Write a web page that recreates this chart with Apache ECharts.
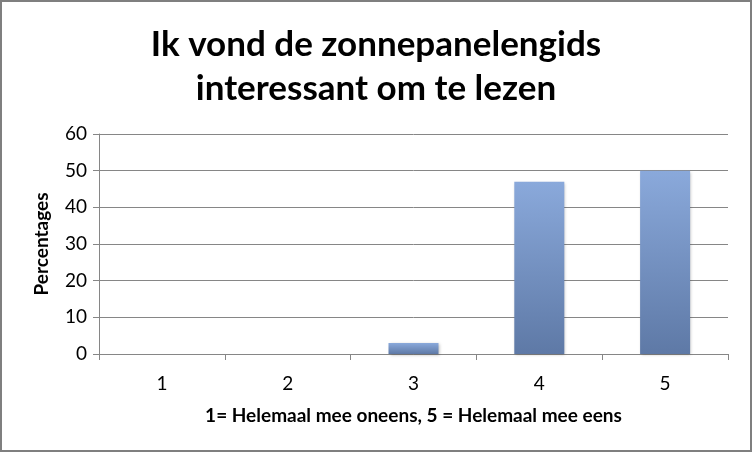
<!DOCTYPE html>
<html>
<head>
<meta charset="utf-8">
<script src="https://cdn.jsdelivr.net/npm/echarts@6/dist/echarts.min.js"></script>
<style>
  html, body { margin: 0; padding: 0; background: #fff; }
  #chart { width: 748px; height: 448px; border: 2px solid #7f7f7f; }
</style>
</head>
<body>
<div id="chart"></div>
<script>
const categories = ["1", "2", "3", "4", "5"];
const percentages = [0, 0, 3, 47, 50];
const yTicks = { min: 0, max: 60, interval: 10 };

const chart = echarts.init(document.getElementById("chart"));
chart.setOption({
  animation: false,
  title: {
    text: "Ik vond de zonnepanelengids\ninteressant om te lezen",
    left: "center",
    top: 16,
    textStyle: {
      fontFamily: "Lato",
      fontWeight: "bold",
      fontSize: 35,
      lineHeight: 44,
      color: "#000",
    },
  },
  grid: { left: 97, right: 22, top: 132, bottom: 96 },
  xAxis: {
    type: "category",
    data: categories,
    name: "1= Helemaal mee oneens, 5 = Helemaal mee eens",
    nameLocation: "middle",
    nameGap: 52,
    nameTextStyle: { fontFamily: "Lato", fontWeight: "bold", fontSize: 19, color: "#000" },
    axisLine: { lineStyle: { color: "#868686" } },
    axisTick: { show: true, alignWithLabel: false, length: 6, lineStyle: { color: "#868686" } },
    axisLabel: { fontFamily: "Lato", fontSize: 19, color: "#000", margin: 20 },
  },
  yAxis: {
    type: "value",
    min: yTicks.min,
    max: yTicks.max,
    interval: yTicks.interval,
    name: "Percentages",
    nameLocation: "middle",
    nameGap: 48,
    nameTextStyle: { fontFamily: "Lato", fontWeight: "bold", fontSize: 19, color: "#000" },
    axisLine: { show: true, lineStyle: { color: "#868686" } },
    axisTick: { show: true, length: 6, lineStyle: { color: "#868686" } },
    axisLabel: { fontFamily: "Lato", fontSize: 19, color: "#000", margin: 12 },
    splitLine: { lineStyle: { color: "#868686" } },
  },
  series: [
    {
      type: "bar",
      data: percentages,
      barWidth: 50,
      itemStyle: {
        color: new echarts.graphic.LinearGradient(0, 0, 0, 1, [
          { offset: 0, color: "#8aa9db" },
          { offset: 1, color: "#5e79a6" },
        ]),
        shadowColor: "rgba(0,0,0,0.25)",
        shadowBlur: 3,
        shadowOffsetX: 1,
        shadowOffsetY: 1,
      },
    },
  ],
});
</script>
</body>
</html>
